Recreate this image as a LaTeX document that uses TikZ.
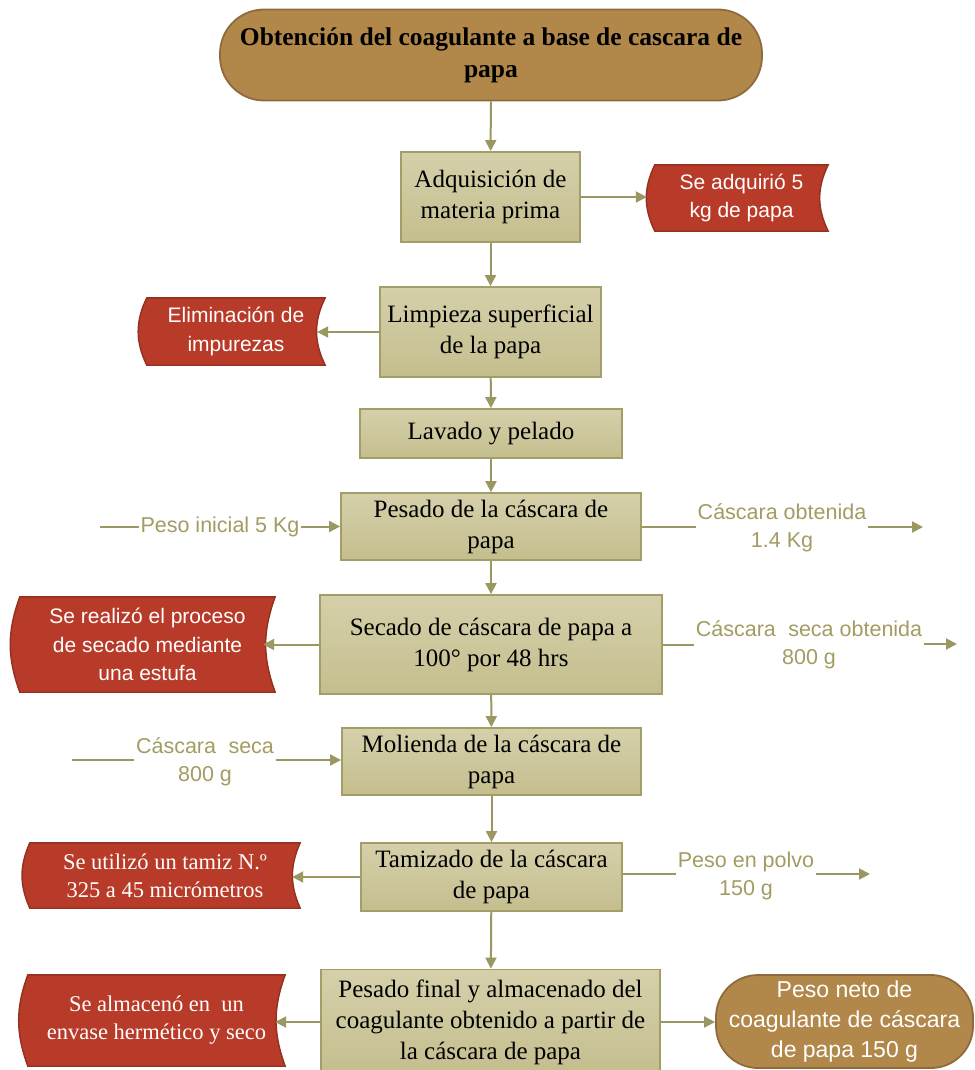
\documentclass[tikz,border=0pt]{standalone}
\usepackage{fontspec}
\setmainfont{Liberation Serif}
\newfontfamily\lsans{Liberation Sans}
\usetikzlibrary{arrows.meta,backgrounds}
\definecolor{arrowc}{HTML}{9B9762}
\definecolor{labc}{HTML}{A39C62}
\definecolor{boxb}{HTML}{A29E68}
\definecolor{boxt}{HTML}{D5D0AA}
\definecolor{boxbot}{HTML}{C4BE8E}
\definecolor{redc}{HTML}{B83A28}
\definecolor{redb}{HTML}{93301F}
\definecolor{termc}{HTML}{B2874A}
\definecolor{termb}{HTML}{8E6B3C}
\begin{document}
\begin{tikzpicture}[x=1pt,y=-1pt,
  procbox/.style={draw=boxb, line width=1.8pt, top color=boxt, bottom color=boxbot,
    font=\fontsize{25}{31}\selectfont, align=center, inner sep=0pt},
  term/.style={draw=termb, line width=1.8pt, fill=termc, rounded corners=44pt,
    align=center, inner sep=0pt},
  rnode/.style={text=white, align=center, inner sep=0pt, font=\lsans\fontsize{21}{28.5}\selectfont},
  rserif/.style={rnode, font=\fontsize{22.5}{28}\selectfont},
  redshape/.style={fill=redc, draw=redb, line width=1.4pt},
  lab/.style={text=labc, align=center, inner sep=1.5pt, font=\lsans\fontsize{21.5}{28}\selectfont},
  ln/.style={draw=arrowc, line width=2pt},
  arr/.style={ln, -{Triangle[length=11pt,width=11pt]}}
]
\useasboundingbox (0,0) rectangle (974,1070);

% main column
\node[term, minimum width=542pt, minimum height=91pt, font=\bfseries\fontsize{25.5}{32}\selectfont]
  (t0) at (491,55) {Obtención del coagulante a base de cascara de\\papa};
\node[procbox, minimum width=179pt, minimum height=90pt] (b1) at (490.5,197) {Adquisición de\\materia prima};
\node[procbox, minimum width=221pt, minimum height=90pt] (b2) at (490.5,332) {Limpieza superficial\\de la papa};
\node[procbox, minimum width=262pt, minimum height=49pt] (b3) at (491,433.5) {Lavado y pelado};
\node[procbox, minimum width=300pt, minimum height=67pt] (b4) at (491,526.5) {Pesado de la cáscara de\\papa};
\node[procbox, minimum width=342pt, minimum height=99pt] (b5) at (491,644.5) {Secado de cáscara de papa a\\100° por 48 hrs};
\node[procbox, minimum width=299pt, minimum height=67pt] (b6) at (491.5,761.5) {Molienda de la cáscara de\\papa};
\node[procbox, minimum width=261pt, minimum height=68pt] (b7) at (491.5,877) {Tamizado de la cáscara\\de papa};
\node[procbox, minimum width=339pt, minimum height=105pt] (b8) at (490.5,1022) {Pesado final y almacenado del\\coagulante obtenido a partir de\\la cáscara de papa};

% red side notes
\node[rnode, minimum width=173pt, minimum height=66pt] (r1) at (741.5,198) {Se adquirió 5\\kg de papa};
\node[rnode, minimum width=178pt, minimum height=67pt] (r2) at (236,331.5) {Eliminación de\\impurezas};
\node[rnode, minimum width=255pt, minimum height=95pt] (r5) at (147.5,644.5) {Se realizó el proceso\\de secado mediante\\una estufa};
\node[rserif, minimum width=270pt, minimum height=65pt] (r7) at (165,875.5) {Se utilizó un tamiz N.º\\325 a 45 micrómetros};
\node[rserif, minimum width=257pt, minimum height=91pt] (r8) at (156.5,1020.5) {Se almacenó en\ \ un\\envase hermético y seco};

\begin{pgfonlayer}{background}
\foreach \r/\b in {r1/26,r2/26,r5/20,r7/24,r8/20}{
  \draw[redshape] (\r.north west) to[bend right=\b] (\r.south west) -- (\r.south east)
     to[bend left=\b] (\r.north east) -- cycle;
}
\end{pgfonlayer}

% final terminator
\node[term, minimum width=257pt, minimum height=93pt, rounded corners=42pt, text=white,
  font=\lsans\fontsize{23}{30}\selectfont] (t9) at (844.5,1021.5) {Peso neto de\\coagulante de cáscara\\de papa 150 g};

% side labels
\node[lab] (l4a) at (220,527) {Peso inicial 5 Kg};
\node[lab] (l4b) at (782,528) {Cáscara obtenida\\1.4 Kg};
\node[lab] (l5) at (809,645) {Cáscara\hspace{0.3em} seca obtenida\\800 g};
\node[lab] (l6) at (205,762) {Cáscara\hspace{0.3em} seca\\800 g};
\node[lab] (l7) at (746,876) {Peso en polvo\\150 g};

\coordinate (s4) at (100,527);
\coordinate (e4) at (923,527);
\coordinate (e5) at (957,644);
\coordinate (s6) at (72,760);
\coordinate (e7) at (870,874);

% vertical flow
\draw[arr] (t0) -- (b1);
\draw[arr] (b1) -- (b2);
\draw[arr] (b2) -- (b3);
\draw[arr] (b3) -- (b4);
\draw[arr] (b4) -- (b5);
\draw[arr] (b5) -- (b6);
\draw[arr] (b6) -- (b7);
\draw[arr] (b7) -- (b8);

% side arrows to notes
\draw[arr] (b1.east) -- ([xshift=-8pt]b1.east -| r1.west);
\draw[arr] (b2.west) -- ([xshift=-8pt]b2.west -| r2.east);
\draw[arr] (b5.west) -- ([xshift=-12pt]b5.west -| r5.east);
\draw[arr] (b7.west) -- ([xshift=-8pt]b7.west -| r7.east);
\draw[arr] (b8.west) -- ([xshift=-10pt]b8.west -| r8.east);
\draw[arr] (b8.east) -- (b8.east -| t9.west);

% labelled lines
\draw[ln] (s4) -- (s4 -| l4a.west);
\draw[arr] (l4a.east |- b4.east) -- (b4.east -| b4.west);
\draw[ln] (b4.east) -- (b4.east -| l4b.west);
\draw[arr] (e4 -| l4b.east) -- (e4);
\draw[ln] (b5.east) -- (b5.east -| l5.west);
\draw[arr] (e5 -| l5.east) -- (e5);
\draw[ln] (s6) -- (s6 -| l6.west);
\draw[arr] (s6 -| l6.east) -- (s6 -| b6.west);
\draw[ln] (e7 -| b7.east) -- (e7 -| l7.west);
\draw[arr] (e7 -| l7.east) -- (e7);
\end{tikzpicture}
\end{document}
